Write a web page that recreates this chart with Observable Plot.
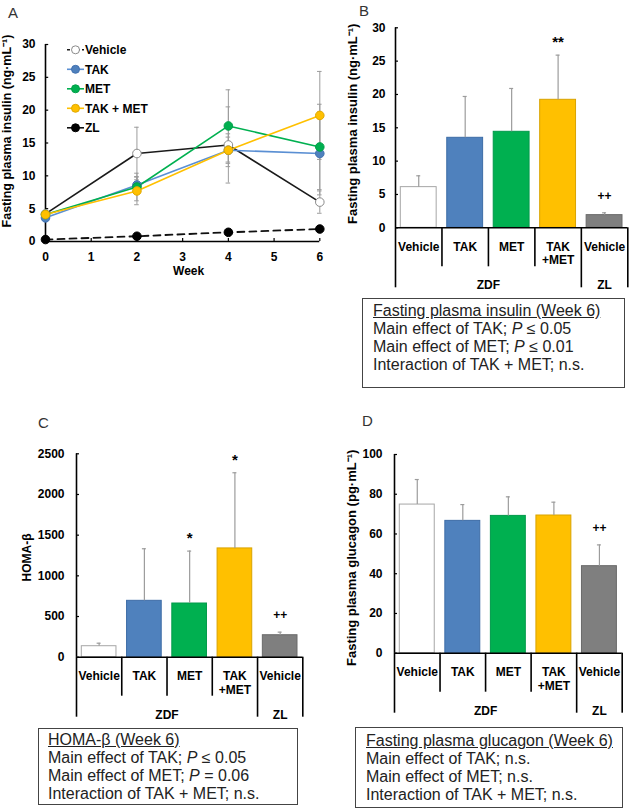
<!DOCTYPE html>
<html><head><meta charset="utf-8">
<script src="https://cdn.jsdelivr.net/npm/d3@7"></script>
<script src="https://cdn.jsdelivr.net/npm/@observablehq/plot@0.6"></script>
<style>
body{margin:0;background:#fff;}
#fig{position:relative;width:629px;height:812px;font-family:"Liberation Sans",Arial,sans-serif;overflow:hidden;}
.letter{position:absolute;font-size:15px;color:#333;line-height:1;}
.stats{position:absolute;border:1px solid #444;box-sizing:border-box;font-size:16px;line-height:18px;color:#222;white-space:nowrap;}
.stats .head{text-decoration:underline;}
</style></head>
<body><div id="fig"></div>
<script>
// ---------- Panel A data ----------
const weeks = [0, 2, 4, 6];
const seriesNames = ["Vehicle", "TAK", "MET", "TAK + MET", "ZL"];
const vehicleMean = [4.2, 13.4, 14.7, 6.0];
const vehicleSD   = [0.5, 4.0, 5.8, 1.7];
const takMean     = [3.6, 8.6, 13.9, 13.4];
const takSD       = [0.4, 1.3, 2.0, 6.3];
const metMean     = [4.1, 8.3, 17.6, 14.4];
const metSD       = [0.4, 2.1, 5.5, 6.5];
const takMetMean  = [4.1, 7.7, 13.9, 19.2];
const takMetSD    = [0.4, 2.1, 2.5, 6.7];
const zlMean      = [0.3, 0.8, 1.4, 1.9];
const zlSD        = [0, 0, 0, 0];
const yTicksA = [0, 5, 10, 15, 20, 25, 30];
const xTicksA = [0, 1, 2, 3, 4, 5, 6];

// ---------- Bar panels data ----------
const groups  = ["Vehicle", "TAK", "MET", "TAK\n+MET", "Vehicle"];
const strains = ["ZDF", "ZDF", "ZDF", "ZDF", "ZL"];
const insulinW6    = [6.1, 13.5, 14.4, 19.2, 1.9];
const insulinW6Err = [1.7, 6.2, 6.5, 6.7, 0.35];
const insulinNotes = ["", "", "", "**", "++"];
const homaB        = [135, 693, 660, 1337, 270];
const homaBErr     = [37, 640, 644, 930, 38];
const homaNotes    = ["", "", "*", "*", "++"];
const glucagon     = [74.8, 66.6, 69.1, 69.3, 43.8];
const glucagonErr  = [12.6, 8.2, 9.6, 6.7, 10.7];
const glucagonNotes= ["", "", "", "", "++"];
const yTicksB = [0, 5, 10, 15, 20, 25, 30];
const yTicksC = [0, 500, 1000, 1500, 2000, 2500];
const yTicksD = [0, 20, 40, 60, 80, 100];

const statsB = ["Fasting plasma insulin (Week 6)", "Main effect of TAK; <i>P</i> ≤ 0.05", "Main effect of MET; <i>P</i> ≤ 0.01", "Interaction of TAK + MET; n.s."];
const statsC = ["HOMA-β (Week 6)", "Main effect of TAK; <i>P</i> ≤ 0.05", "Main effect of MET; <i>P</i> = 0.06", "Interaction of TAK + MET; n.s."];
const statsD = ["Fasting plasma glucagon (Week 6)", "Main effect of TAK; n.s.", "Main effect of MET; n.s.", "Interaction of TAK + MET; n.s."];

// ---------- styles ----------
const FONT = '"Liberation Sans", Arial, sans-serif';
const lineColors = ["#1a1a1a", "#5a8fd3", "#00b050", "#ffc000", "#111111"];
const dotFill    = ["#ffffff", "#4f81bd", "#00b050", "#ffc000", "#000000"];
const dotStroke  = ["#8a8a8a", "#4070b0", "#00a048", "#e0a800", "#000000"];
const barFill    = ["#ffffff", "#4f81bd", "#00b050", "#ffc000", "#7f7f7f"];
const barStroke  = ["#a6a6a6", "#3d6ca6", "#00994a", "#d9a300", "#6a6a6a"];
const errColor = "#9c9c9c";
const baseStyle = {fontFamily: FONT, fontSize: "12px", fontWeight: "bold", color: "#000", background: "transparent", overflow: "visible"};
const intFmt = d => String(d);

const fig = document.getElementById("fig");
function place(el, left, top) {
  el.style.position = "absolute";
  el.style.left = left + "px";
  el.style.top = top + "px";
  el.style.overflow = "visible";
  el.style.maxWidth = "none";
  fig.appendChild(el);
}

// ---------- Panel A ----------
const means = [vehicleMean, takMean, metMean, takMetMean, zlMean];
const sds = [vehicleSD, takSD, metSD, takMetSD, zlSD];
const rowsA = [];
seriesNames.forEach((s, k) => weeks.forEach((w, j) => rowsA.push({s, k, w, m: means[k][j], sd: sds[k][j]})));
const errRowsA = rowsA.filter(d => d.sd > 0);
const drawOrder = [0, 4, 1, 2, 3];
const dotRows = drawOrder.flatMap(k => rowsA.filter(d => d.k === k));

const plotA = Plot.plot({
  width: 322, height: 290,
  marginLeft: 45, marginRight: 2.7, marginTop: 44, marginBottom: 49,
  x: {domain: [0, 6]}, y: {domain: [0, 30]},
  color: {type: "identity"},
  style: baseStyle,
  marks: [
    Plot.ruleX(errRowsA, {x: "w", y1: d => d.m - d.sd, y2: d => d.m + d.sd, stroke: errColor, strokeWidth: 1}),
    Plot.ruleY(errRowsA, {y: d => d.m + d.sd, x1: d => d.w - 0.05, x2: d => d.w + 0.05, stroke: errColor, strokeWidth: 1}),
    Plot.ruleY(errRowsA, {y: d => d.m - d.sd, x1: d => d.w - 0.05, x2: d => d.w + 0.05, stroke: errColor, strokeWidth: 1}),
    Plot.ruleX([0], {stroke: "#000", strokeWidth: 1.6}),
    Plot.ruleY([0], {stroke: "#000", strokeWidth: 1.6}),
    Plot.ruleY(yTicksA, {x1: 0, x2: 0.07, stroke: "#000", strokeWidth: 1.2}),
    Plot.ruleX(xTicksA, {y1: 0, y2: 0.45, stroke: "#000", strokeWidth: 1.2}),
    Plot.axisY({ticks: yTicksA, tickSize: 0, tickPadding: 10, tickFormat: intFmt, label: null}),
    Plot.axisX({ticks: xTicksA, tickSize: 0, tickPadding: 11, tickFormat: intFmt, label: null}),
    Plot.text(["Week"], {frameAnchor: "bottom", dx: 6, dy: 33, fontSize: 12}),
    Plot.text(["Fasting plasma insulin (ng·mL⁻¹)"], {frameAnchor: "left", textAnchor: "middle", rotate: -90, dx: -39, dy: -12, fontSize: 12.5}),
    ...[0, 1, 2, 3, 4].map(k => Plot.line(rowsA.filter(d => d.k === k), {
      x: "w", y: "m", stroke: lineColors[k],
      strokeWidth: k === 4 ? 1.8 : 1.6,
      strokeDasharray: k === 4 ? "7,5" : null
    })),
    Plot.dot(dotRows, {x: "w", y: "m", r: 4.3, fill: d => dotFill[d.k], stroke: d => dotStroke[d.k], strokeWidth: 1})
  ]
});
place(plotA, 0, 0);

// Legend for panel A
(function legend() {
  const svg = d3.create("svg").attr("width", 170).attr("height", 140)
    .style("font-family", FONT).style("font-size", "12px").style("font-weight", "bold");
  seriesNames.forEach((name, k) => {
    const y = 49.8 + k * 19.5;
    svg.append("line").attr("x1", 67).attr("x2", 84).attr("y1", y).attr("y2", y)
      .attr("stroke", lineColors[k]).attr("stroke-width", 1.6)
      .attr("stroke-dasharray", k === 0 ? "3,2" : null);
    svg.append("circle").attr("cx", 75.5).attr("cy", y).attr("r", 4)
      .attr("fill", dotFill[k]).attr("stroke", dotStroke[k]);
    svg.append("text").attr("x", 85).attr("y", y).attr("dy", "0.35em").text(name);
  });
  place(svg.node(), 0, 0);
})();

// ---------- Bar panels ----------
function barPanel(cfg) {
  const {values, errs, notes, yMax, yTicks, yLabel, w, h, m, labelDx, labelDy, labelSize, tickPad} = cfg;
  const n = groups.length;
  const rows = values.map((v, i) => ({i, v, top: v + errs[i], note: notes[i], group: groups[i]}));
  const bounds = d3.range(n + 1);
  const longB = bounds.filter(b => b === 0 || b === n || strains[b] !== strains[b - 1]);
  const shortB = bounds.filter(b => !longB.includes(b));
  const strainRows = Array.from(d3.group(rows, d => strains[d.i]), ([name, rs]) => ({name, c: (d3.min(rs, r => r.i) + d3.max(rs, r => r.i) + 1) / 2}));
  const xScale = (w - m[0] - m[1]) / n;
  return Plot.plot({
    width: w, height: h,
    marginLeft: m[0], marginRight: m[1], marginTop: m[2], marginBottom: m[3],
    x: {domain: [0, n]}, y: {domain: [0, yMax]},
    color: {type: "identity"},
    style: baseStyle,
    marks: [
      Plot.rectY(rows, {x1: d => d.i, x2: d => d.i + 1, y1: 0, y2: "v", insetLeft: 5.3, insetRight: 5.3,
        fill: d => barFill[d.i], stroke: d => barStroke[d.i], strokeWidth: 1}),
      Plot.ruleX(rows, {x: d => d.i + 0.5, y1: "v", y2: "top", stroke: errColor, strokeWidth: 1.2}),
      Plot.ruleY(rows, {y: "top", x1: d => d.i + 0.5 - 2 / xScale, x2: d => d.i + 0.5 + 2 / xScale, stroke: errColor, strokeWidth: 1.2}),
      Plot.ruleY([0], {stroke: "#000", strokeWidth: 1.6}),
      Plot.ruleX([0], {stroke: "#000", strokeWidth: 1.6}),
      Plot.ruleY(yTicks, {x1: 0, x2: 3 / xScale, stroke: "#000", strokeWidth: 1.2}),
      Plot.axisY({ticks: yTicks, tickSize: 0, tickPadding: tickPad, tickFormat: intFmt, label: null}),
      Plot.axisX({ticks: shortB, tickSize: 39, tickFormat: () => "", strokeWidth: 1.6, label: null}),
      Plot.axisX({ticks: longB, tickSize: 60, tickFormat: () => "", strokeWidth: 1.6, label: null}),
      Plot.text(rows, {x: d => d.i + 0.5, text: "group", frameAnchor: "bottom", lineAnchor: "top", dy: 13.8, fontSize: 12, lineHeight: 1.1}),
      Plot.text(strainRows, {x: "c", text: "name", frameAnchor: "bottom", lineAnchor: "top", dy: 53, fontSize: 12}),
      Plot.text(rows.filter(d => d.note.includes("*")), {x: d => d.i + 0.5, y: "top", text: "note", dy: -13, fontSize: 15}),
      Plot.text(rows.filter(d => d.note.includes("+")), {x: d => d.i + 0.5, y: "top", text: "note", dy: -17, fontSize: 12}),
      Plot.text([yLabel], {frameAnchor: "left", textAnchor: "middle", rotate: -90, dx: labelDx, dy: labelDy, fontSize: labelSize})
    ]
  });
}

place(barPanel({values: insulinW6, errs: insulinW6Err, notes: insulinNotes, yMax: 30, yTicks: yTicksB,
  yLabel: "Fasting plasma insulin (ng·mL⁻¹)", w: 309, h: 300, m: [75, 1.7, 27.3, 72.7], labelDx: -43, labelDy: -4, labelSize: 13, tickPad: 10}), 320, 0);
place(barPanel({values: homaB, errs: homaBErr, notes: homaNotes, yMax: 2500, yTicks: yTicksC,
  yLabel: "HOMA-β", w: 320, h: 300, m: [76, 17.7, 33.3, 63.3], labelDx: -49, labelDy: 2, labelSize: 12, tickPad: 12}), 0, 420);
place(barPanel({values: glucagon, errs: glucagonErr, notes: glucagonNotes, yMax: 100, yTicks: yTicksD,
  yLabel: "Fasting plasma glucagon (pg·mL⁻¹)", w: 314, h: 300, m: [79, 7.3, 34, 67.3], labelDx: -43, labelDy: 4, labelSize: 13, tickPad: 12}), 315, 420);

// ---------- Panel letters ----------
[["A", 8, 5], ["B", 359, 3], ["C", 38, 415], ["D", 362, 413]].forEach(([t, x, y]) => {
  const d = document.createElement("div");
  d.className = "letter"; d.textContent = t;
  d.style.left = x + "px"; d.style.top = y + "px";
  fig.appendChild(d);
});

// ---------- Stats boxes ----------
function statsBox(lines, left, top, width, height, padTop, padLeft) {
  const d = document.createElement("div");
  d.className = "stats";
  Object.assign(d.style, {left: left + "px", top: top + "px", width: width + "px", height: height + "px", paddingTop: padTop + "px", paddingLeft: padLeft + "px"});
  d.innerHTML = lines.map((l, i) => `<div class="${i === 0 ? "head" : ""}">${l}</div>`).join("");
  fig.appendChild(d);
}
statsBox(statsB, 362, 298, 263, 90, 3, 10);
statsBox(statsC, 38, 728, 260, 77, 2, 9);
statsBox(statsD, 355, 727, 268, 81, 4, 10);
</script>
</body></html>
